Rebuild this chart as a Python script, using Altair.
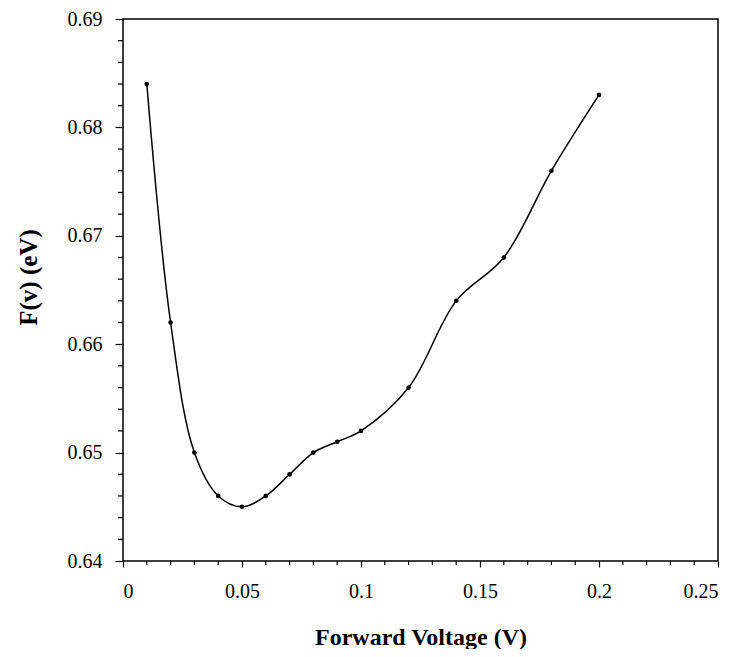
import altair as alt
import pandas as pd

# Data
voltage = [0.01, 0.02, 0.03, 0.04, 0.05, 0.06, 0.07, 0.08, 0.09, 0.10, 0.12, 0.14, 0.16, 0.18, 0.20]
fv = [0.684, 0.662, 0.650, 0.646, 0.645, 0.646, 0.648, 0.650, 0.651, 0.652, 0.656, 0.664, 0.668, 0.676, 0.683]

x_major = [0, 0.05, 0.1, 0.15, 0.2, 0.25]
y_major = [0.64, 0.65, 0.66, 0.67, 0.68, 0.69]
x_minor = [round(i * 0.01, 3) for i in range(26) if i % 5 != 0]
y_minor = [round(0.64 + i * 0.002, 4) for i in range(26) if i % 5 != 0]

df = pd.DataFrame({"v": voltage, "f": fv})
dfx = pd.DataFrame({"v": x_minor})
dfy = pd.DataFrame({"f": y_minor})

W, H = 595, 542
SERIF = "Liberation Serif"

xscale = alt.Scale(domain=[0, 0.25], nice=False, zero=False)
yscale = alt.Scale(domain=[0.64, 0.69], nice=False, zero=False)

xaxis = alt.Axis(
    values=x_major, format="~g", grid=False, domain=False,
    tickColor="black", tickSize=6, tickWidth=1.2,
    labelFont=SERIF, labelFontSize=20, labelColor="black", labelPadding=14,
    title="Forward Voltage (V)", titleFont=SERIF, titleFontSize=24,
    titleFontWeight="bold", titleColor="black",
    titleY=83, titleBaseline="alphabetic",
)
yaxis = alt.Axis(
    values=y_major, format=".2f", grid=False, domain=False,
    tickColor="black", tickSize=8, tickWidth=1.2,
    labelFont=SERIF, labelFontSize=20, labelColor="black", labelPadding=13,
    title="F(v) (eV)", titleFont=SERIF, titleFontSize=25,
    titleFontWeight="bold", titleColor="black",
    titleX=-87, titleY=258, titleAngle=-90, titleBaseline="alphabetic", titleAlign="center",
)

base = alt.Chart(df)

line = base.mark_line(color="black", strokeWidth=1.5, interpolate="catmull-rom").encode(
    x=alt.X("v:Q", scale=xscale, axis=xaxis),
    y=alt.Y("f:Q", scale=yscale, axis=yaxis),
)
pts = base.mark_circle(color="black", size=22, opacity=1).encode(
    x=alt.X("v:Q", scale=xscale),
    y=alt.Y("f:Q", scale=yscale),
)
xm = alt.Chart(dfx).mark_rule(color="black", strokeWidth=1.2).encode(
    x=alt.X("v:Q", scale=xscale),
    y=alt.value(H),
    y2=alt.value(H + 4),
)
ym = alt.Chart(dfy).mark_rule(color="black", strokeWidth=1.2).encode(
    y=alt.Y("f:Q", scale=yscale),
    x=alt.value(-5),
    x2=alt.value(0),
)

chart = alt.layer(line, pts, xm, ym).properties(
    width=W, height=H,
    autosize=alt.AutoSizeParams(type="none"),
    padding={"left": 115, "top": 11, "right": 18, "bottom": 88},
    background="white",
).configure_view(stroke="black", strokeWidth=1.5)

chart.save("out.html", embed_options={"renderer": "svg", "actions": False})
